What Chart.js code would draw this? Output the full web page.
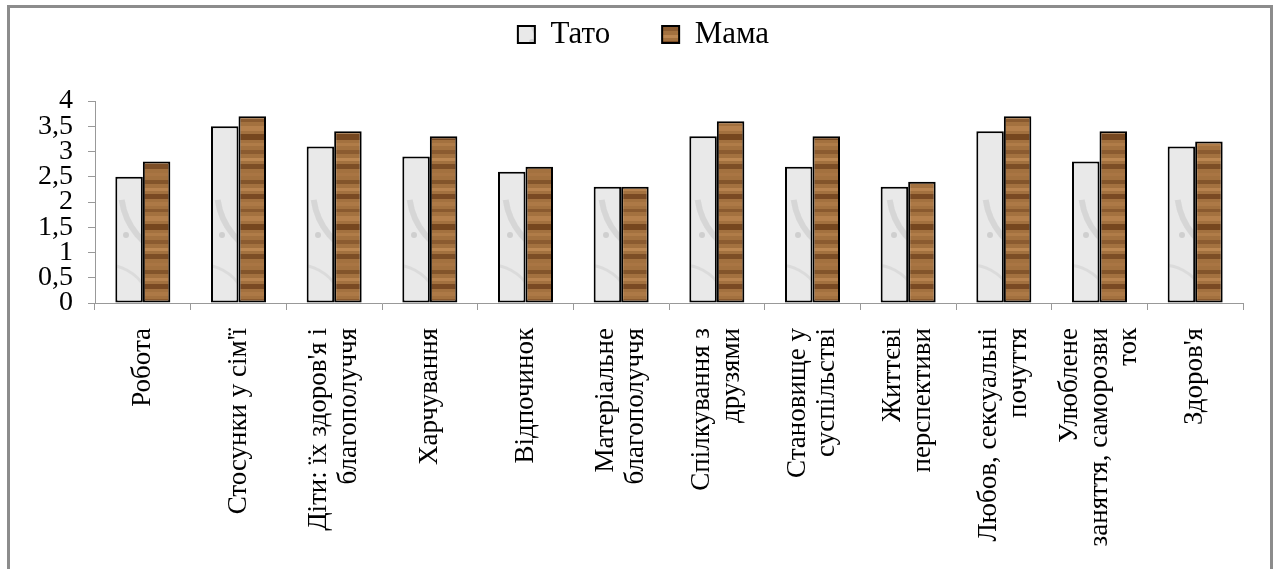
<!DOCTYPE html>
<html>
<head>
<meta charset="utf-8">
<script src="https://cdn.jsdelivr.net/npm/chart.js@4"></script>
<style>
  html, body { margin: 0; padding: 0; background: #fff; overflow: hidden; }
  #wrap { position: relative; width: 1274px; height: 569px; }
  #frame {
    position: absolute; left: 7px; top: 5px; width: 1260px; height: 600px;
    border: 3px solid #8c8c8c; pointer-events: none;
  }
</style>
</head>
<body>
<div id="wrap">
  <canvas id="chart" width="1274" height="569"></canvas>
  <div id="frame"></div>
</div>
<script>
  // ── Data ───────────────────────────────────
  const categories = [
    "Робота",
    "Стосунки у сім'ї",
    ["Діти: їх здоров'я і", "благополуччя"],
    "Харчування",
    "Відпочинок",
    ["Матеріальне", "благополуччя"],
    ["Спілкування з", "друзями"],
    ["Становище у", "суспільстві"],
    ["Життєві", "перспективи"],
    ["Любов, сексуальні", "почуття"],
    ["Улюблене", "заняття, саморозви", "ток"],
    "Здоров'я"
  ];
  const tatoValues = [2.5, 3.5, 3.1, 2.9, 2.6, 2.3, 3.3, 2.7, 2.3, 3.4, 2.8, 3.1];
  const mamaValues = [2.8, 3.7, 3.4, 3.3, 2.7, 2.3, 3.6, 3.3, 2.4, 3.7, 3.4, 3.2];
  const yTicks = [0, 0.5, 1, 1.5, 2, 2.5, 3, 3.5, 4];

  const FONT = "'Liberation Serif', 'Times New Roman', serif";
  const canvas = document.getElementById("chart");
  const ctx = canvas.getContext("2d");

  // ── Fill textures ──────────────────────────
  function marblePattern() {
    const c = document.createElement("canvas");
    c.width = 96; c.height = 160;
    const g = c.getContext("2d");
    g.fillStyle = "#e9e9e9";
    g.fillRect(0, 0, c.width, c.height);
    g.strokeStyle = "rgba(160,160,160,0.25)";
    g.lineWidth = 6;
    g.beginPath(); g.arc(95, 30, 70, 1.9, 3.0); g.stroke();
    g.lineWidth = 4;
    g.beginPath(); g.arc(110, 110, 60, 2.3, 3.3); g.stroke();
    g.strokeStyle = "rgba(180,180,180,0.25)";
    g.lineWidth = 3;
    g.beginPath(); g.arc(10, 150, 45, 4.6, 5.8); g.stroke();
    g.fillStyle = "rgba(150,150,150,0.3)";
    g.beginPath(); g.arc(30, 75, 3, 0, Math.PI * 2); g.fill();
    return ctx.createPattern(c, "repeat");
  }

  function woodPattern() {
    const c = document.createElement("canvas");
    c.width = 40; c.height = 90;
    const g = c.getContext("2d");
    g.fillStyle = "#a3713f";
    g.fillRect(0, 0, c.width, c.height);
    const bands = [
      [0, 4, "#83552b"], [8, 3, "#b8834f"], [14, 5, "#7a4a23"],
      [22, 4, "#ad7946"], [29, 3, "#8a5a2f"], [36, 5, "#b5804c"],
      [44, 6, "#76471f"], [53, 3, "#b07c48"], [60, 4, "#8b5b30"],
      [68, 3, "#bc8752"], [74, 5, "#7d4e26"], [83, 3, "#a97543"]
    ];
    bands.forEach(([y, h, col]) => { g.fillStyle = col; g.fillRect(0, y, c.width, h); });
    return ctx.createPattern(c, "repeat");
  }

  // ── Layout helpers ─────────────────────────
  const legendTweak = {
    id: "legendTweak",
    beforeInit(chart) {
      const lg = chart.legend;
      if (!lg) return;
      const fit = lg.fit;
      lg.fit = function () { fit.call(this); this.height = 101; };
      const draw = lg.draw;
      lg.draw = function () {
        const c = this.ctx;
        c.save(); c.translate(22, -33);
        draw.call(this);
        c.restore();
      };
    }
  };

  // centre multi-line rotated labels on their category
  const centerLabels = {
    id: "centerLabels",
    beforeDraw(chart) {
      const sc = chart.scales.x;
      const items = sc.getLabelItems ? sc.getLabelItems() : [];
      items.forEach((it) => {
        if (it._centered) return;
        const n = Array.isArray(it.label) ? it.label.length : 1;
        it.options.translation[0] -= (n - 1) * it.font.lineHeight / 2;
        it._centered = true;
      });
    }
  };

  new Chart(canvas, {
    type: "bar",
    data: {
      labels: categories,
      datasets: [
        { label: "Тато", data: tatoValues, backgroundColor: marblePattern(),
          borderColor: "#000", borderWidth: 2, borderSkipped: false },
        { label: "Мама", data: mamaValues, backgroundColor: woodPattern(),
          borderColor: "#000", borderWidth: 2, borderSkipped: false }
      ]
    },
    options: {
      responsive: false,
      animation: false,
      devicePixelRatio: 1,
      layout: { padding: { top: 0, left: 0, right: 31, bottom: 0 } },
      datasets: { bar: { categoryPercentage: 0.575, barPercentage: 1.0 } },
      plugins: {
        legend: {
          position: "top",
          labels: {
            color: "#000",
            font: { family: FONT, size: 31 },
            boxWidth: 17, boxHeight: 17,
            padding: 52
          }
        },
        tooltip: { enabled: false }
      },
      scales: {
        x: {
          afterFit(scale) { scale.height = 266; },
          border: { color: "#999", width: 1 },
          grid: { display: true, drawOnChartArea: false, drawTicks: true, tickLength: 7, color: "#999", offset: true },
          ticks: {
            color: "#000",
            font: { family: FONT, size: 27, lineHeight: 1.1 },
            autoSkip: false, minRotation: 90, maxRotation: 90,
            padding: 18
          }
        },
        y: {
          min: 0, max: 4,
          afterFit(scale) { scale.width = 95; },
          afterBuildTicks(scale) { scale.ticks = yTicks.map((v) => ({ value: v })); },
          border: { color: "#999", width: 1 },
          grid: { display: true, drawOnChartArea: false, drawTicks: true, tickLength: 7, color: "#999" },
          ticks: {
            color: "#000",
            font: { family: FONT, size: 28 },
            autoSkip: false,
            padding: 15,
            callback: (v) => String(v).replace(".", ",")
          }
        }
      }
    },
    plugins: [legendTweak, centerLabels]
  });
</script>
</body>
</html>
